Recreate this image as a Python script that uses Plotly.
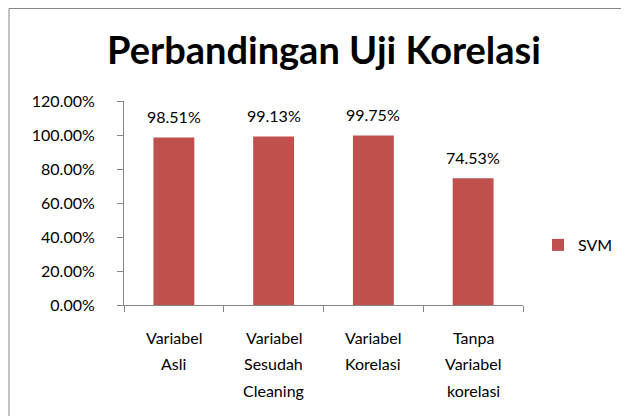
import plotly.graph_objects as go

categories = ["Variabel<br>Asli", "Variabel<br>Sesudah<br>Cleaning", "Variabel<br>Korelasi", "Tanpa<br>Variabel<br>korelasi"]
svm_values = [0.9851, 0.9913, 0.9975, 0.7453]
y_ticks = [0, 0.2, 0.4, 0.6, 0.8, 1.0, 1.2]
y_tick_labels = ["0.00%", "20.00%", "40.00%", "60.00%", "80.00%", "100.00%", "120.00%"]

FONT = "Lato, Open Sans, sans-serif"

# figure is placed at (8,8) by the page's body margin
W, H = 621, 408
L, R, T, B = 116, 106, 93, 111
plot_w = W - L - R
plot_h = H - T - B

fig = go.Figure()
fig.add_trace(go.Bar(
    x=categories, y=svm_values, name="SVM",
    marker=dict(color="#C0504D", line=dict(width=0)),
    width=0.41,
    cliponaxis=False,
))

annotations = []
# data labels
for c, v in zip(categories, svm_values):
    annotations.append(dict(x=c, y=v, xref="x", yref="y", text=f"{v*100:.2f}%",
                            showarrow=False, yanchor="middle", yshift=21,
                            font=dict(size=16, color="#000000", family=FONT)))
# category labels, one line at a time for Excel-like line spacing
for c in categories:
    for j, line in enumerate(c.split("<br>")):
        annotations.append(dict(x=c, y=0, xref="x", yref="y", text=line,
                                showarrow=False, yanchor="middle", yshift=-(32 + 26.5 * j),
                                font=dict(size=16, color="#000000", family=FONT)))

fig.update_layout(
    width=W, height=H,
    margin=dict(l=L, r=R, t=T, b=B, autoexpand=False),
    paper_bgcolor="white", plot_bgcolor="white",
    title=dict(text="<b>Perbandingan Uji Korelasi</b>", x=(324 - 8) / W, xanchor="center",
               y=1 - 43 / H, yanchor="middle",
               font=dict(size=38, color="#000000", family=FONT)),
    showlegend=True,
    legend=dict(x=(538 - 8 - L) / plot_w, y=(297 - 237) / plot_h, xanchor="left", yanchor="middle",
                font=dict(size=16, color="#000000", family=FONT),
                itemwidth=30,
                bgcolor="rgba(0,0,0,0)"),
    bargap=0.59,
    annotations=annotations,
    xaxis=dict(showline=True, linecolor="#868686", linewidth=1,
               ticks="outside", ticklen=6, tickcolor="#868686",
               tickson="boundaries", showticklabels=False,
               showgrid=False, automargin=False),
    yaxis=dict(range=[0, 1.2], tickvals=y_ticks, ticktext=y_tick_labels,
               showline=True, linecolor="#868686", linewidth=1,
               ticks="outside", ticklen=6, tickcolor="#868686",
               ticklabelstandoff=19,
               tickfont=dict(size=16, color="#000000", family=FONT),
               showgrid=False, zeroline=False, automargin=False),
    shapes=[
        dict(type="line", xref="paper", yref="paper",
             x0=(1 - L) / plot_w, x1=(W - L) / plot_w,
             y0=1 + (T - 0.5) / plot_h, y1=1 + (T - 0.5) / plot_h,
             line=dict(color="#868686", width=1)),
        dict(type="line", xref="paper", yref="paper",
             x0=(1 - L) / plot_w, x1=(1 - L) / plot_w,
             y0=1 + (T - 0.5) / plot_h, y1=-B / plot_h,
             line=dict(color="#868686", width=1)),
    ],
)

fig.write_html("out.html")
